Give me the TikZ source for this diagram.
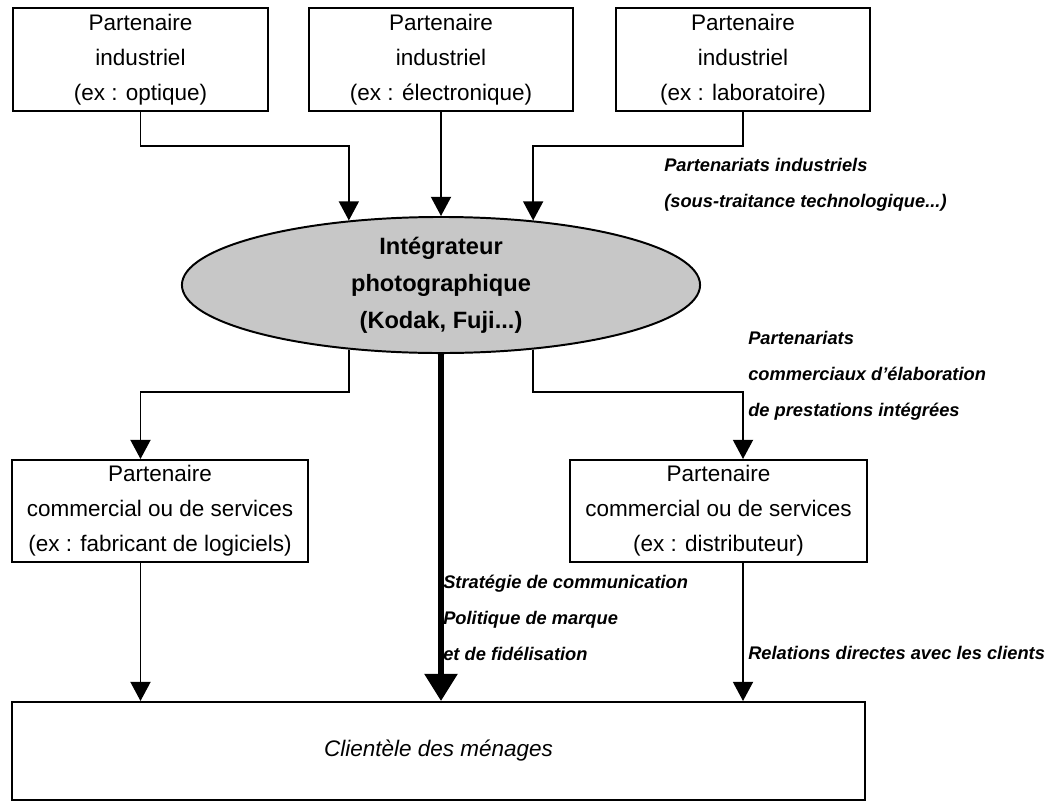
\documentclass[tikz,border=0pt]{standalone}
\usepackage{fontspec}
\setmainfont{Liberation Sans}
\usetikzlibrary{arrows.meta, calc, positioning, shapes.geometric}

\begin{document}
\begin{tikzpicture}[x=0.025cm, y=-0.025cm,
	partner/.style={draw, line width=1.4pt, align=center, inner sep=0pt, font=\fontsize{16}{25}\selectfont},
	link/.style={line width=1.4pt, -{Triangle[width=0.5cm,length=0.48cm]}},
	biglink/.style={line width=4.2pt, -{Triangle[width=0.8cm,length=0.68cm]}},
	note/.style={anchor=west, align=left, inner sep=0pt, font=\fontsize{13}{25.6}\selectfont\bfseries\itshape}]
	\useasboundingbox (0,0) rectangle (1050,802);

	% industrial partners
	\node[partner, minimum width=6.375cm, minimum height=2.575cm] (ind1) at (140.5,59.5) {Partenaire\\industriel\\(ex : optique)};
	\node[partner, minimum width=6.575cm, minimum height=2.575cm] (ind2) at (441,59.5) {Partenaire\\industriel\\(ex : électronique)};
	\node[partner, minimum width=6.35cm, minimum height=2.575cm] (ind3) at (743,59.5) {Partenaire\\industriel\\(ex : laboratoire)};

	% the integrator
	\node[ellipse, draw, line width=1.4pt, fill=black!22, inner sep=0pt, minimum width=12.95cm, minimum height=3.35cm,
		align=center, font=\fontsize{16.8}{26.3}\selectfont\bfseries] (integ) at (441,285) {Intégrateur\\photographique\\(Kodak, Fuji...)};

	% commercial partners and households
	\node[partner, minimum width=7.4cm, minimum height=2.55cm] (com1) at (160,511) {Partenaire\\commercial ou de services\\(ex : fabricant de logiciels)};
	\node[partner, minimum width=7.425cm, minimum height=2.55cm] (com2) at (718.5,511) {Partenaire\\commercial ou de services\\(ex : distributeur)};
	\node[partner, minimum width=21.325cm, minimum height=2.45cm, font=\fontsize{16}{25}\selectfont\itshape] (menages) at (438.5,751) {Clientèle des ménages};

	% links
	\draw[link] (ind1.south) -- ++(0,34) -| (integ.145);
	\draw[link] (ind2.south) -- (integ.north);
	\draw[link] (ind3.south) -- ++(0,34) -| (integ.35);
	\draw[link] (integ.215) -- ++(0,42) -| (com1.north -| ind1.south);
	\draw[link] (integ.-35) -- ++(0,42) -| (com2.north -| ind3.south);
	\draw[link] (com1.south -| ind1.south) -- (menages.north -| ind1.south);
	\draw[link] (com2.south -| ind3.south) -- (menages.north -| ind3.south);
	\draw[biglink] (integ.south) -- (menages.north -| integ.south);

	% labels
	\node[note] (indlabel) at (664,185) {Partenariats industriels\\(sous-traitance technologique...)};
	\node[note] (comlabel) at (748,376) {Partenariats\\commerciaux d'élaboration\\de prestations intégrées};
	\node[note] (stratlabel) at (443,618) {Stratégie de communication\\Politique de marque\\et de fidélisation};
	\node[note] (rellabel) at (748,653) {Relations directes avec les clients};
\end{tikzpicture}
\end{document}
